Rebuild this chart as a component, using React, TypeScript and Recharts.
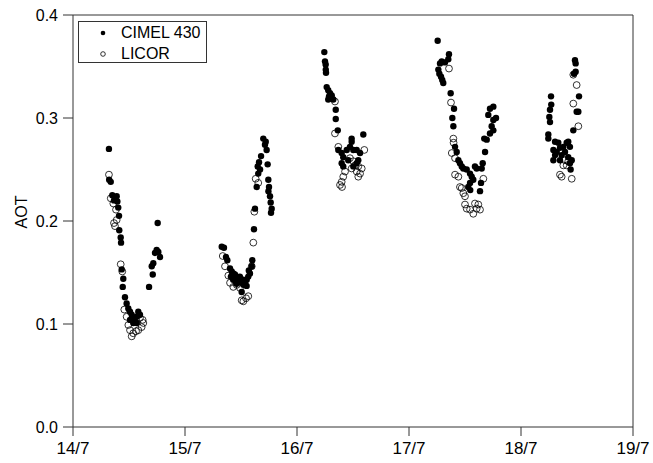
import React from 'react';
import { ScatterChart, Scatter, XAxis, YAxis, Legend, ReferenceLine } from 'recharts';

// [day of July, AOT]
const cimelPoints: [number, number][] = [
  // 14/7
  [14.321, 0.270], [14.323, 0.240], [14.337, 0.238], [14.351, 0.225], [14.390, 0.224], [14.366, 0.220],
  [14.396, 0.219], [14.404, 0.213], [14.411, 0.205], [14.413, 0.191], [14.426, 0.184], [14.429, 0.179],
  [14.435, 0.153], [14.449, 0.144], [14.444, 0.136], [14.464, 0.126], [14.479, 0.120], [14.494, 0.115],
  [14.509, 0.112], [14.524, 0.109], [14.538, 0.106], [14.554, 0.102], [14.569, 0.107], [14.583, 0.112],
  [14.598, 0.109], [14.569, 0.101], [14.538, 0.101], [14.509, 0.104], [14.756, 0.198], [14.732, 0.169],
  [14.747, 0.172], [14.762, 0.170], [14.777, 0.165], [14.717, 0.159], [14.703, 0.156], [14.712, 0.148],
  [14.679, 0.136],
  // 15/7
  [15.699, 0.280], [15.721, 0.277], [15.714, 0.274], [15.729, 0.269], [15.679, 0.263], [15.661, 0.257],
  [15.649, 0.253], [15.670, 0.250], [15.654, 0.246], [15.738, 0.255], [15.640, 0.233], [15.744, 0.240],
  [15.750, 0.233], [15.745, 0.229], [15.759, 0.224], [15.765, 0.218], [15.774, 0.212], [15.768, 0.208],
  [15.625, 0.212], [15.616, 0.192], [15.328, 0.175], [15.348, 0.174], [15.366, 0.165], [15.378, 0.162],
  [15.402, 0.154], [15.417, 0.151], [15.431, 0.149], [15.446, 0.148], [15.462, 0.146], [15.476, 0.143],
  [15.491, 0.141], [15.506, 0.140], [15.521, 0.138], [15.536, 0.140], [15.551, 0.143], [15.565, 0.146],
  [15.580, 0.149], [15.596, 0.156], [15.601, 0.162], [15.506, 0.131], [15.430, 0.143], [15.460, 0.139],
  [15.490, 0.146], [15.520, 0.143], [15.550, 0.137], [15.570, 0.152], [15.410, 0.146],
  // 16/7
  [16.244, 0.364], [16.250, 0.355], [16.256, 0.352], [16.257, 0.347], [16.259, 0.344], [16.265, 0.330],
  [16.279, 0.327], [16.295, 0.324], [16.310, 0.322], [16.286, 0.321], [16.279, 0.318], [16.310, 0.319],
  [16.324, 0.318], [16.346, 0.308], [16.346, 0.299], [16.364, 0.288], [16.488, 0.280], [16.488, 0.277],
  [16.592, 0.284], [16.369, 0.269], [16.399, 0.266], [16.413, 0.262], [16.399, 0.256], [16.413, 0.253],
  [16.444, 0.269], [16.473, 0.272], [16.503, 0.269], [16.533, 0.269], [16.563, 0.266], [16.547, 0.259],
  [16.533, 0.256], [16.503, 0.253], [16.458, 0.259],
  // 17/7
  [17.256, 0.375], [17.357, 0.362], [17.351, 0.357], [17.277, 0.353], [17.292, 0.355], [17.321, 0.354],
  [17.262, 0.347], [17.271, 0.343], [17.286, 0.340], [17.297, 0.337], [17.306, 0.334], [17.372, 0.324],
  [17.402, 0.309], [17.387, 0.300], [17.396, 0.292], [17.411, 0.272], [17.426, 0.267], [17.441, 0.259],
  [17.455, 0.256], [17.471, 0.253], [17.485, 0.251], [17.515, 0.250], [17.545, 0.246], [17.560, 0.243],
  [17.574, 0.240], [17.545, 0.237], [17.529, 0.233], [17.547, 0.230], [17.634, 0.229], [17.589, 0.253],
  [17.604, 0.251], [17.658, 0.256], [17.649, 0.251], [17.643, 0.237], [17.679, 0.267], [17.672, 0.280],
  [17.694, 0.279], [17.723, 0.309], [17.753, 0.311], [17.708, 0.303], [17.753, 0.298], [17.777, 0.300],
  [17.738, 0.292], [17.753, 0.288], [17.723, 0.285],
  // 18/7
  [18.268, 0.321], [18.270, 0.313], [18.259, 0.308], [18.253, 0.301], [18.259, 0.296], [18.244, 0.284],
  [18.244, 0.280], [18.518, 0.321], [18.497, 0.306], [18.512, 0.306], [18.467, 0.288], [18.304, 0.277],
  [18.333, 0.276], [18.289, 0.269], [18.319, 0.267], [18.348, 0.271], [18.378, 0.272], [18.408, 0.276],
  [18.422, 0.277], [18.437, 0.272], [18.393, 0.267], [18.363, 0.264], [18.304, 0.264], [18.289, 0.259],
  [18.422, 0.262], [18.453, 0.259], [18.437, 0.256], [18.443, 0.250], [18.348, 0.259], [18.482, 0.356],
  [18.488, 0.353], [18.488, 0.345], [18.473, 0.343],
];

const licorPoints: [number, number][] = [
  // 14/7
  [14.321, 0.245], [14.337, 0.222], [14.360, 0.217], [14.384, 0.211], [14.390, 0.201], [14.366, 0.198],
  [14.375, 0.195], [14.426, 0.158], [14.440, 0.151], [14.458, 0.114], [14.479, 0.107], [14.494, 0.099],
  [14.509, 0.094], [14.524, 0.088], [14.538, 0.091], [14.563, 0.093], [14.583, 0.094], [14.613, 0.097],
  [14.628, 0.101], [14.622, 0.104], [14.598, 0.106],
  // 15/7
  [15.631, 0.241], [15.654, 0.237], [15.619, 0.209], [15.610, 0.179], [15.337, 0.166], [15.357, 0.156],
  [15.387, 0.147], [15.402, 0.140], [15.431, 0.136], [15.462, 0.138], [15.491, 0.135], [15.506, 0.123],
  [15.521, 0.122], [15.545, 0.125], [15.565, 0.127], [15.596, 0.156],
  // 16/7
  [16.339, 0.316], [16.339, 0.285], [16.369, 0.272], [16.601, 0.269], [16.473, 0.261], [16.503, 0.258],
  [16.488, 0.251], [16.429, 0.248], [16.413, 0.243], [16.399, 0.238], [16.384, 0.235], [16.402, 0.233],
  [16.518, 0.254], [16.547, 0.253], [16.578, 0.251], [16.563, 0.246], [16.547, 0.243], [16.533, 0.248],
  // 17/7
  [17.357, 0.348], [17.375, 0.315], [17.396, 0.280], [17.398, 0.276], [17.382, 0.266], [17.411, 0.261],
  [17.411, 0.245], [17.441, 0.243], [17.455, 0.233], [17.471, 0.232], [17.485, 0.227], [17.500, 0.224],
  [17.500, 0.216], [17.515, 0.212], [17.545, 0.211], [17.574, 0.207], [17.604, 0.212], [17.619, 0.216],
  [17.634, 0.211], [17.589, 0.217], [17.664, 0.241],
  // 18/7
  [18.497, 0.332], [18.467, 0.314], [18.512, 0.292], [18.393, 0.259], [18.408, 0.254], [18.378, 0.254],
  [18.348, 0.245], [18.363, 0.243], [18.453, 0.241], [18.422, 0.258], [18.467, 0.342],
];

const dayTicks = [14, 15, 16, 17, 18, 19];
const aotTicks = [0, 0.1, 0.2, 0.3, 0.4];

const cimelData = cimelPoints.map(([t, aot]) => ({ t, aot }));
const licorData = licorPoints.map(([t, aot]) => ({ t, aot }));

const FONT = '"Liberation Sans", Arial, sans-serif';
const AXIS = '#333';

const FilledDot = (props: any) => <circle cx={props.cx} cy={props.cy} r={3.2} fill="#000" />;
const OpenDot = (props: any) => (
  <circle cx={props.cx} cy={props.cy} r={3.4} fill="none" stroke="#000" strokeWidth={0.8} />
);

const LegendBox = () => (
  <div
    style={{
      width: 127,
      height: 40,
      border: '1px solid #333',
      background: '#fff',
      fontFamily: FONT,
      fontSize: 16,
      color: '#000',
      position: 'relative',
    }}
  >
    {[
      { name: 'CIMEL 430', filled: true, y: 11 },
      { name: 'LICOR', filled: false, y: 32 },
    ].map((item) => (
      <div key={item.name} style={{ position: 'absolute', left: 0, top: item.y - 10, height: 20, display: 'flex', alignItems: 'center' }}>
        <svg width={40} height={20} style={{ display: 'block' }}>
          <circle cx={24} cy={10} r={2.3} fill={item.filled ? '#000' : 'none'} stroke="#000" strokeWidth={item.filled ? 0 : 0.8} />
        </svg>
        <span style={{ marginLeft: 2, lineHeight: '20px' }}>{item.name}</span>
      </div>
    ))}
  </div>
);

export default function App() {
  return (
    <div style={{ position: 'absolute', left: 0, top: 0, background: '#fff' }}>
      <ScatterChart width={653} height={463} margin={{ top: 15, right: 20, left: 0, bottom: 0 }}>
        <XAxis
          type="number"
          dataKey="t"
          domain={[14, 19]}
          ticks={dayTicks}
          tickFormatter={(v: number) => `${v}/7`}
          height={36}
          tickSize={9}
          tickMargin={6}
          stroke={AXIS}
          tick={{ fill: '#000', fontSize: 17, fontFamily: FONT }}
          allowDataOverflow
        />
        <YAxis
          type="number"
          dataKey="aot"
          domain={[0, 0.4]}
          ticks={aotTicks}
          tickFormatter={(v: number) => v.toFixed(1)}
          width={73}
          tickSize={10}
          tickMargin={5}
          stroke={AXIS}
          tick={{ fill: '#000', fontSize: 16, fontFamily: FONT }}
          label={{
            content: (p: any) => {
              const vb = p.viewBox || {};
              const cy = (vb.y ?? 15) + (vb.height ?? 412) / 2 - 9;
              return (
                <text
                  x={21}
                  y={cy}
                  transform={`rotate(-90 21 ${cy})`}
                  textAnchor="middle"
                  dominantBaseline="central"
                  fontSize={16}
                  fontFamily={FONT}
                  fill="#000"
                >
                  AOT
                </text>
              );
            },
          }}
        />
        <ReferenceLine y={0.4} stroke={AXIS} />
        <ReferenceLine x={19} stroke={AXIS} />
        <Legend
          layout="vertical"
          align="center"
          verticalAlign="middle"
          content={() => <LegendBox />}
          wrapperStyle={{ left: 78, top: 21, width: 'auto', height: 'auto' }}
        />
        <Scatter name="CIMEL 430" data={cimelData} shape={FilledDot} isAnimationActive={false} />
        <Scatter name="LICOR" data={licorData} shape={OpenDot} isAnimationActive={false} />
      </ScatterChart>
    </div>
  );
}
